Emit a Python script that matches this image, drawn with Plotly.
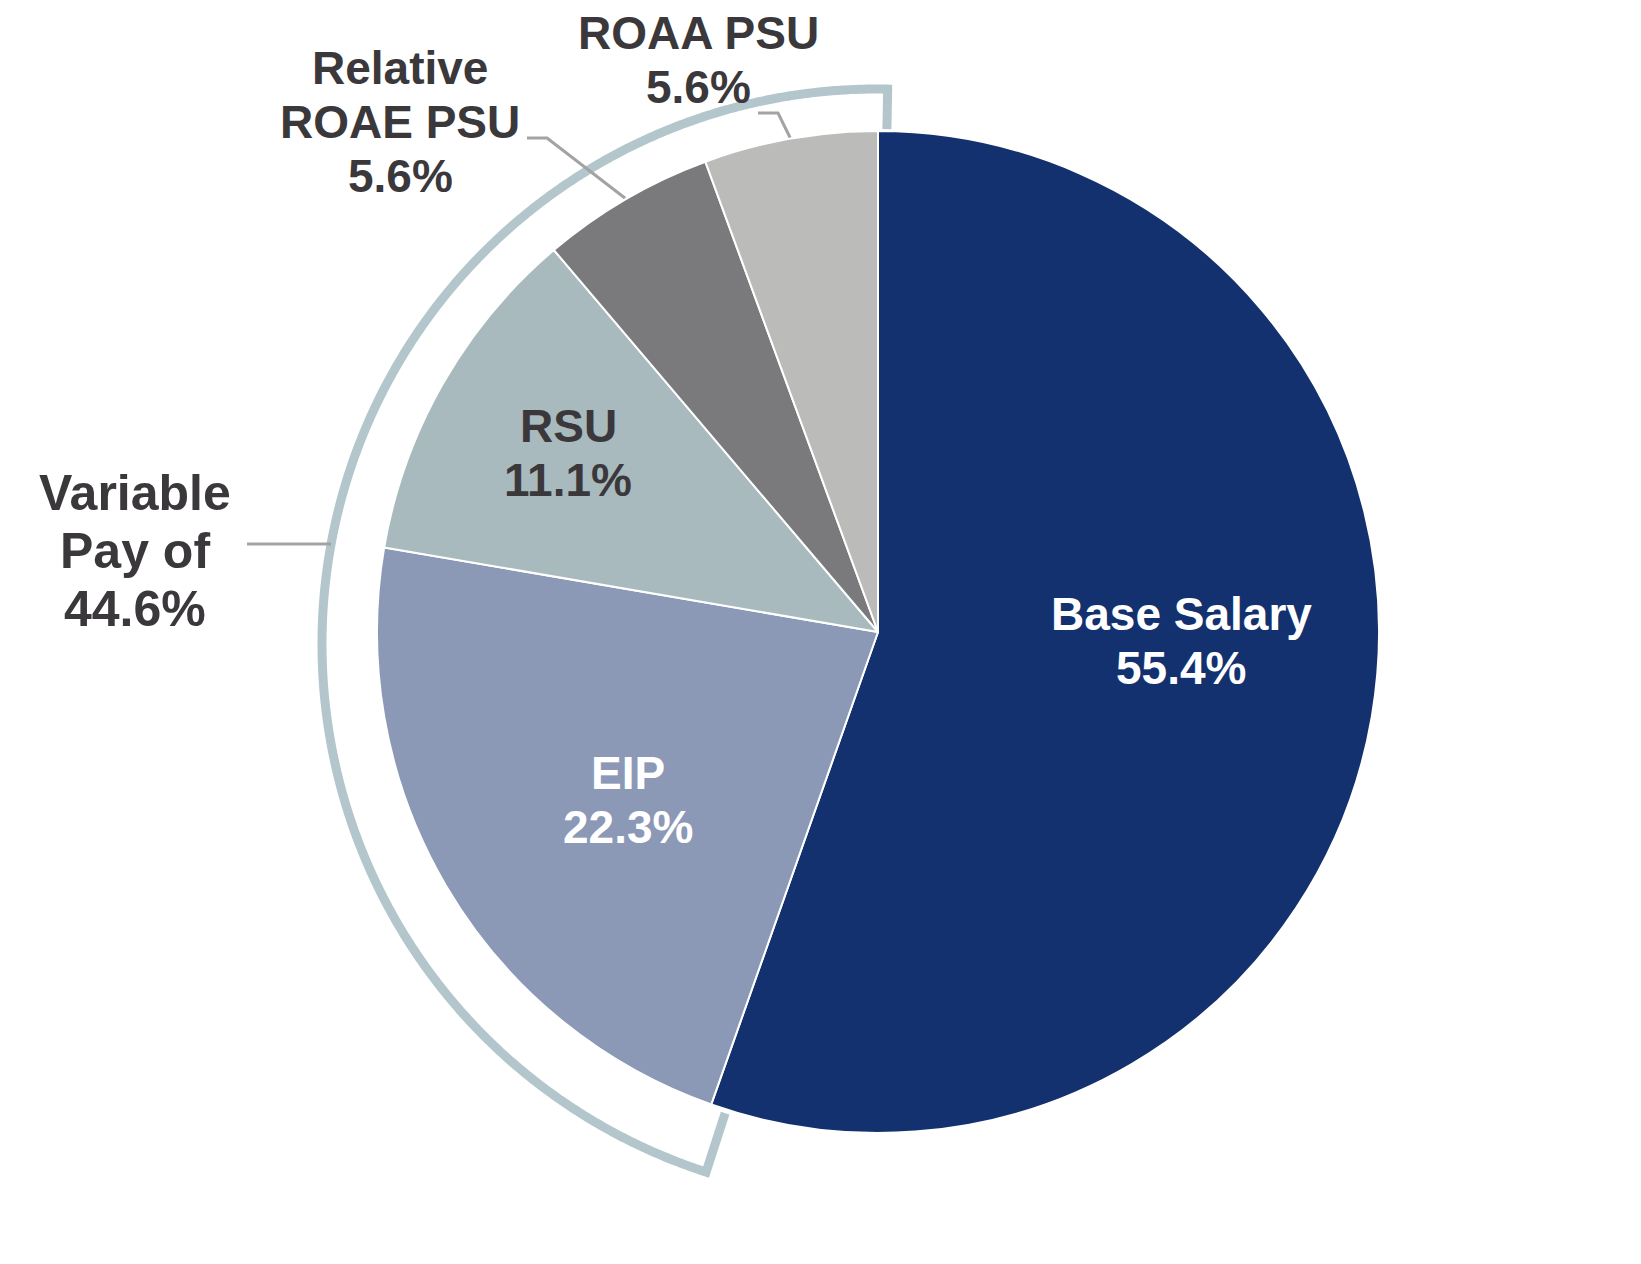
import numpy as np
import plotly.graph_objects as go

# ---------------- data ----------------
categories = ["Base Salary", "EIP", "RSU", "Relative ROAE PSU", "ROAA PSU"]
values = [55.4, 22.3, 11.1, 5.6, 5.6]
label_lines = [["Base Salary"], ["EIP"], ["RSU"], ["Relative", "ROAE PSU"], ["ROAA PSU"]]
group_lines = ["Variable", "Pay of"]

# ---------------- style / layout constants ----------------
W, H = 1641, 1264
CX, CY, R = 878, 632, 501                 # pie centre and radius (px)
slice_colors = ["#14316f", "#8b98b6", "#a8babd", "#7a7a7c", "#bbbbb9"]
text_colors = ["#ffffff", "#ffffff", "#3b383c", "#3b383c", "#3b383c"]
label_centers = [(1181, 641), (628, 800), (568, 453), (400, 122), (698, 60)]
group_center = (135, 551)
FONT = "Liberation Sans, Arial, sans-serif"
FS, LS = 46, 54                            # font size, line spacing
GFS, GLS = 50, 58
DARK = "#3b383c"
LEADER = "#a3a3a6"
BRACKET = "#b3c6cc"
ACX, ACY, AR = 877, 644, 555               # bracket arc centre/radius (px)

total = float(sum(values))
cum = np.concatenate([[0], np.cumsum(values)])
start_deg = 360 * cum[:-1] / total
end_deg = 360 * cum[1:] / total
mid_deg = (start_deg + end_deg) / 2


def polar(cx, cy, r, deg):
    t = np.radians(deg)
    return cx + r * np.sin(t), cy - r * np.cos(t)


fig = go.Figure()

# pie
fig.add_trace(go.Pie(
    labels=categories, values=values, sort=False, direction="clockwise", rotation=0,
    marker=dict(colors=slice_colors, line=dict(color="white", width=2)),
    textinfo="none", hoverinfo="skip", showlegend=False,
    domain=dict(x=[(CX - R) / W, (CX + R) / W], y=[1 - (CY + R) / H, 1 - (CY - R) / H]),
))

# bracket around the variable-pay slices
a0 = end_deg[0] - 1.5
a1 = 360 + 1.1
arc = np.linspace(a0, a1, 600)
ax, ay = polar(ACX, ACY, AR, arc)
t0x, t0y = polar(ACX, ACY, AR - 62, a0)
t1x, t1y = polar(ACX, ACY, AR - 40, a1)
bx = np.concatenate([[t0x], ax, [t1x]])
by = np.concatenate([[t0y], ay, [t1y]])
fig.add_trace(go.Scatter(x=bx, y=by, mode="lines",
                         line=dict(color=BRACKET, width=9, simplify=False),
                         hoverinfo="skip", showlegend=False))

# leader lines
vy = 544
vx_end = ACX - np.sqrt(AR ** 2 - (vy - ACY) ** 2)
fig.add_trace(go.Scatter(x=[247, vx_end], y=[vy, vy], mode="lines",
                         line=dict(color=LEADER, width=3), hoverinfo="skip", showlegend=False))
elbows = {3: [(527, 138), (547, 138)], 4: [(758, 113), (778, 113)]}
for i, pts in elbows.items():
    ex, ey = polar(CX, CY, R + 1, mid_deg[i])
    xs = [p[0] for p in pts] + [ex]
    ys = [p[1] for p in pts] + [ey]
    fig.add_trace(go.Scatter(x=xs, y=ys, mode="lines", line=dict(color=LEADER, width=3),
                             hoverinfo="skip", showlegend=False))

annotations = []


def add_label(lines, center, size, spacing, color):
    n = len(lines)
    for k, ln in enumerate(lines):
        annotations.append(dict(
            x=center[0], y=center[1] + (k - (n - 1) / 2) * spacing,
            xref="x", yref="y", text=ln, showarrow=False,
            xanchor="center", yanchor="middle",
            font=dict(family=FONT, size=size, color=color, weight="bold"),
        ))


for i, cat in enumerate(categories):
    lines = label_lines[i] + [f"{values[i]:.1f}%"]
    add_label(lines, label_centers[i], FS, LS, text_colors[i])

variable_share = sum(values[1:])
add_label(group_lines + [f"{variable_share:.1f}%"], group_center, GFS, GLS, DARK)

fig.update_layout(
    width=W, height=H, margin=dict(l=0, r=0, t=0, b=0),
    paper_bgcolor="white", plot_bgcolor="rgba(0,0,0,0)",
    xaxis=dict(range=[0, W], visible=False, fixedrange=True, domain=[0, 1]),
    yaxis=dict(range=[H, 0], visible=False, fixedrange=True, domain=[0, 1]),
    annotations=annotations, showlegend=False,
)

fig.write_html("out.html")
